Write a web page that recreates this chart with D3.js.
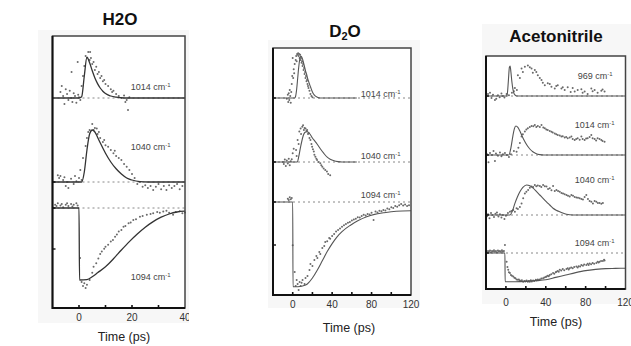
<!DOCTYPE html>
<html>
<head>
<meta charset="utf-8">
<script src="https://cdn.jsdelivr.net/npm/d3@7"></script>
<style>
  body { margin: 0; background: #fff; }
  svg { display: block; font-family: Arial, "Liberation Sans", sans-serif; }
</style>
</head>
<body>
<div id="chart"></div>
<script>
// ---- data: [time (ps), signal] ----
const h2oTicks = [0, 20, 40];
const d2oTicks = [0, 40, 80, 120];
const acnTicks = [0, 40, 80, 120];

const h2o1014Fit = [[-10,0],[0,0],[1,0.03],[2,0.55],[3,1.02],[4,0.88],[5,0.68],[6,0.5],[7,0.36],[8,0.25],[9,0.17],[10,0.11],[12,0.05],[14,0.02],[17,0],[40,0]];
const h2o1014Pts = [[-7,0.15],[-6.5,0.3],[-6,0.05],[-5.5,-0.15],[-5,0.22],[-4.5,0.1],[-4,-0.05],[-3.5,0.18],[-3,0.0],[-2.8,0.65],[-2.5,-0.1],[-2,0.12],[-1.5,0.05],[-1,-0.12],[-0.5,0.9],[-0.3,0.08],[0,0.02],[0.5,-0.05],[1,0.3],[1.5,0.55],[2,0.8],[2.5,1.05],[3,1.0],[3.5,1.15],[4,0.95],[4.2,1.15],[4.5,1.0],[5,0.85],[5.5,0.9],[6,0.7],[6.5,0.78],[7,0.6],[7.5,0.65],[8,0.5],[8.5,0.55],[9,0.42],[9.5,0.45],[10,0.35],[11,0.3],[12,0.22],[12.5,0.15],[13,0.18],[14,0.1],[15,0.05],[16,0.0],[17,0.06],[17.5,-0.1],[18,-0.05],[18.5,-0.3],[19,0.02]];
const h2o1040Fit = [[-10,0],[1,0],[2,0.25],[3,0.8],[4,1.2],[5,1.3],[6,1.25],[7,1.12],[8,0.98],[10,0.72],[12,0.5],[14,0.33],[16,0.2],[18,0.1],[20,0.05],[23,0.01],[26,0],[40,0]];
const h2o1040Pts = [[-8,0.17],[-7.5,0.1],[-7,0.15],[-6,0.05],[-5.5,0.12],[-5,-0.1],[-4.5,0.0],[-4,-0.15],[-3,0.08],[-2,-0.05],[-1.5,0.15],[-1,0.02],[0,0.1],[0.5,0.3],[1,0.05],[1.5,0.6],[2.5,0.9],[3,1.1],[3.5,1.25],[4,1.3],[5,1.45],[5.5,1.3],[6,1.35],[6.7,1.34],[7,1.2],[7.5,1.25],[8,1.1],[9,1.0],[9.5,1.05],[10,0.92],[11,0.88],[12,0.8],[13,0.72],[13.5,0.78],[14,0.65],[15,0.6],[16,0.55],[17,0.45],[18,0.38],[19,0.3],[20,0.2],[21,0.1],[22,-0.05],[23,0.0],[24,-0.12],[25,-0.08],[26,-0.15],[27,-0.1],[28,-0.2],[29,-0.12],[30,-0.05],[31,-0.18],[32,-0.1],[33,-0.2],[34,-0.08],[35,-0.15],[36,-0.1],[37,-0.05],[38,-0.18],[39,-0.1]];
const h2o1094Fit = [[-10,0],[0,0],[0.2,-1.8],[3,-1.79],[5,-1.72],[7,-1.62],[10,-1.47],[13,-1.27],[16,-1.05],[19,-0.84],[22,-0.65],[25,-0.48],[28,-0.34],[31,-0.23],[34,-0.15],[37,-0.1],[40,-0.08]];
const h2o1094Pts = [[-9,0.08],[-8.5,0.05],[-8,0.12],[-7,0.06],[-6.5,0.1],[-6,0.02],[-5,0.08],[-4.5,0.12],[-4,0.05],[-3,0.1],[-2.5,0.04],[-2,0.08],[-1,0.12],[-0.5,0.06],[0.4,-1.25],[1,-1.85],[1.5,-1.95],[2,-1.88],[2.5,-2.0],[3,-1.92],[4,-1.8],[5,-1.62],[5.5,-1.47],[6.5,-1.38],[7.3,-1.26],[8,-1.15],[8.6,-1.09],[9.5,-1.02],[10,-0.97],[11,-0.92],[12,-0.84],[12.8,-0.8],[13.6,-0.72],[14.3,-0.66],[15,-0.59],[16,-0.55],[16.8,-0.47],[17.5,-0.45],[18.7,-0.38],[19.5,-0.36],[20.5,-0.3],[21.5,-0.28],[23,-0.22],[24,-0.2],[25.6,-0.17],[27,-0.15],[28,-0.13],[29.5,-0.1],[30.5,-0.12],[31.8,-0.09],[33,-0.07],[34,-0.12],[35.5,-0.17],[36.5,-0.1],[38,-0.08],[39,-0.13],[40,-0.11]];

const d2o1014Fit = [[-20,0],[2,0],[3,0.05],[4,0.22],[5,0.48],[6,0.75],[7,0.95],[8,1.05],[9,1.03],[10,0.97],[11,0.88],[12,0.78],[13,0.68],[14,0.6],[15,0.5],[16,0.42],[18,0.28],[20,0.15],[22,0.07],[25,0.02],[28,0],[65,0]];
const d2o1014Pts = [[-6,-0.02],[-5,0.08],[-4.5,-0.1],[-4,0.12],[-3.5,-0.05],[-3,0.2],[-2.5,0.05],[-2,-0.12],[-1.5,0.15],[-1,0.35],[-0.5,0.55],[0,1.0],[0.5,0.5],[1,0.72],[1.5,0.62],[2,0.85],[3,0.95],[3.5,1.05],[4,0.92],[4.5,1.1],[5,1.08],[5.5,1.12],[6,1.05],[6.5,1.1],[7,1.0],[7.5,1.08],[8,0.95],[8.5,1.0],[9,0.88],[9.5,0.92],[10,0.8],[10.5,0.85],[11,0.7],[11.5,0.75],[12,0.6],[12.5,0.65],[13,0.5],[13.5,0.55],[14,0.42],[14.5,0.45],[15,0.35],[15.5,0.3],[16,0.25],[17,0.18],[18,0.1],[19,0.05],[20,0.02]];
const d2o1040Fit = [[-20,0],[4.7,0],[6,0.12],[8,0.38],[10,0.6],[11.3,0.7],[13,0.75],[14.6,0.76],[16,0.74],[18,0.68],[20,0.6],[22.5,0.52],[24.7,0.45],[28,0.33],[31.4,0.22],[35,0.12],[38,0.07],[42,0.03],[46,0.01],[50,0],[65,0]];
const d2o1040Pts = [[-10,0.0],[-9,-0.05],[-8,0.06],[-7,-0.1],[-6,0.04],[-5,-0.04],[-4,0.08],[-3,-0.08],[-2,0.02],[-1,0.07],[0,0.22],[1,0.33],[3.4,0.3],[4,0.15],[5,0.55],[6,0.45],[6.7,0.76],[8,0.84],[8.5,0.7],[9.7,0.88],[10.5,0.92],[11.3,0.8],[12,0.85],[13,0.84],[14,0.78],[14.6,0.8],[15.5,0.7],[16.3,0.72],[17,0.6],[18,0.55],[19,0.45],[19.7,0.38],[20.5,0.32],[21.4,0.26],[22,0.18],[23,0.13],[24,0.08],[24.7,0.05],[26,0.0],[28,-0.03],[29,-0.08],[30,-0.12],[31.4,-0.16],[33,-0.2],[34.7,-0.24],[36,-0.3],[38,-0.33]];
const d2o1094Fit = [[-20,0],[0,0],[0.3,-2.12],[5,-2.12],[10,-2.1],[14.8,-2.05],[20,-1.9],[25,-1.7],[30,-1.47],[35,-1.24],[40,-1.04],[45,-0.87],[50,-0.74],[58.6,-0.58],[66,-0.47],[75,-0.37],[83,-0.31],[92,-0.27],[105,-0.23],[120,-0.22]];
const d2o1094Pts = [[-5,0.08],[-4,0.05],[-3,0.12],[-2,0.07],[-1,0.1],[0,-1.08],[2,-1.75],[3,-2.1],[4,-1.95],[5,-2.05],[6,-2.2],[7,-2.0],[8,-2.1],[9,-2.02],[10,-1.95],[12,-2.05],[13,-1.9],[15,-1.85],[17,-1.7],[18,-1.55],[20,-1.6],[22,-1.45],[24,-1.35],[25,-1.4],[27,-1.25],[28,-1.3],[30,-1.15],[32,-1.1],[33,-1.0],[35,-0.98],[37,-0.9],[38,-0.92],[40,-0.85],[42,-0.8],[44,-0.74],[46,-0.7],[48,-0.66],[50,-0.62],[52,-0.58],[54,-0.55],[56,-0.52],[58,-0.5],[60,-0.46],[62,-0.44],[64,-0.42],[66,-0.38],[68,-0.39],[70,-0.35],[72,-0.32],[74,-0.34],[76,-0.3],[78,-0.31],[80,-0.27],[82,-0.45],[84,-0.24],[86,-0.26],[88,-0.22],[90,-0.23],[92,-0.2],[94,-0.21],[96,-0.16],[98,-0.18],[100,-0.13],[102,-0.15],[104,-0.1],[106,-0.12],[108,-0.08],[110,-0.05],[112,-0.09],[114,-0.06],[116,-0.1],[118,-0.08]];

const acn969Fit = [[-20,0],[0.5,0],[1.5,0.08],[2.5,0.4],[3.5,0.72],[4.2,0.75],[5,0.6],[6,0.35],[7,0.17],[8,0.07],[9,0.03],[11,0],[120,0]];
const acn969Pts = [[-18,0.05],[-16,0.08],[-14.5,-0.05],[-13,0.03],[-11,-0.1],[-9.7,-0.07],[-8,0.02],[-6.3,-0.03],[-4.5,0.06],[-3,0.0],[-1.5,-0.04],[0.7,0.05],[3,0.02],[6,0.08],[8,0.12],[9,0.2],[11,0.15],[12,0.52],[14,0.45],[15.7,0.69],[17,0.6],[19,0.73],[22,0.76],[24,0.72],[25.7,0.69],[27,0.58],[29,0.65],[30.5,0.6],[32,0.52],[34,0.45],[35.7,0.4],[37,0.33],[39,0.27],[42,0.32],[44,0.3],[45.7,0.23],[49,0.19],[50.5,0.25],[52,0.27],[55.7,0.19],[57,0.22],[59,0.15],[62,0.22],[65,0.1],[67,0.2],[69,0.11],[72,0.15],[75.7,0.17],[77,0.08],[79,0.11],[82,0.05],[85.7,0.19],[87,0.12],[89,0.15],[92,0.08],[95.7,0.13],[97,0.16],[99,0.11]];
const acn1014Fit = [[-20,0],[3,0],[5,0.18],[7,0.48],[8.5,0.66],[10,0.725],[12,0.69],[14,0.6],[16,0.49],[18,0.38],[21,0.25],[24,0.15],[27,0.08],[30,0.04],[34,0.01],[38,0],[120,0]];
const acn1014Pts = [[-19,0.02],[-17.5,-0.18],[-16,0.05],[-14,0.0],[-12.5,0.1],[-11,-0.15],[-10,0.04],[-8,-0.02],[-6,0.06],[-4.5,-0.03],[-3,0.02],[-1,0.05],[1,0.0],[3,-0.05],[5,0.02],[8,0.1],[10.7,0.08],[12.5,0.18],[14,0.3],[15.7,0.46],[17,0.52],[19,0.59],[20.5,0.64],[22,0.67],[24,0.7],[25.7,0.725],[27.5,0.72],[29,0.75],[30.5,0.7],[32,0.725],[34,0.7],[35.7,0.75],[37.5,0.69],[39,0.67],[40.5,0.64],[42,0.625],[44,0.6],[45.7,0.58],[47,0.56],[49,0.54],[50.5,0.52],[52,0.5],[54,0.49],[55.7,0.46],[57,0.47],[59,0.44],[60.5,0.45],[62,0.42],[64,0.44],[65.7,0.46],[67,0.4],[69,0.375],[70.5,0.4],[72,0.42],[74,0.38],[75.7,0.46],[77,0.4],[79,0.375],[80.5,0.41],[82,0.42],[84,0.45],[85.7,0.5],[87,0.42],[89,0.4],[90.5,0.36],[92,0.42],[94,0.4],[95.7,0.375],[97,0.35],[99,0.33]];
const acn1040Fit = [[-20,0],[4,0],[6.5,0.1],[9,0.29],[11.5,0.45],[14,0.58],[17,0.69],[20.7,0.75],[24,0.73],[27.3,0.67],[30.5,0.59],[34,0.5],[37.5,0.41],[40.7,0.33],[44,0.25],[47.3,0.17],[50.5,0.12],[54,0.08],[57,0.05],[60.7,0.02],[67,0],[120,0]];
const acn1040Pts = [[-19,-0.03],[-18,0.02],[-16.5,-0.08],[-15,0.05],[-13.5,0.0],[-12,-0.05],[-10.5,0.03],[-9,0.06],[-7.5,-0.04],[-6,0.02],[-4.5,-0.06],[-3,0.0],[-1.5,-0.1],[0,-0.02],[2,0.05],[4,0.08],[5.5,0.1],[7.3,0.125],[9,0.08],[10.7,0.17],[12,0.15],[14,0.2],[15.7,0.29],[17.3,0.42],[19,0.54],[20.5,0.58],[22.3,0.625],[24,0.68],[25.7,0.71],[27.3,0.7],[29,0.75],[30.5,0.72],[32,0.74],[34,0.725],[35.5,0.7],[37.3,0.75],[39,0.72],[40.7,0.71],[42.3,0.65],[44,0.67],[45.7,0.62],[47.3,0.725],[49,0.6],[50.7,0.625],[52.3,0.6],[54,0.58],[55.7,0.55],[57.3,0.54],[59,0.52],[60.7,0.5],[62.3,0.48],[64,0.46],[65.7,0.5],[67.3,0.48],[69,0.45],[70.7,0.44],[72.3,0.43],[74,0.42],[75.7,0.4],[77.3,0.39],[79,0.45],[80.7,0.5],[82.3,0.4],[84,0.35],[85.7,0.33],[87.3,0.29],[89,0.35],[90.7,0.33],[92.3,0.3],[94,0.3],[95.7,0.28],[97.3,0.3]];
const acn1094Fit = [[-20,0],[-1,0],[-0.8,-0.72],[5,-0.72],[10,-0.72],[20,-0.71],[30,-0.69],[40,-0.67],[50,-0.61],[60,-0.55],[70,-0.49],[80,-0.44],[90,-0.41],[100,-0.39],[110,-0.385],[120,-0.38]];
const acn1094Pts = [[-19,0.02],[-18,0.05],[-17,0.03],[-16,0.06],[-15,0.02],[-14,0.05],[-13,0.04],[-12,0.07],[-11,0.03],[-10,0.05],[-9,0.02],[-8,0.06],[-7,0.04],[-6,0.05],[-5,0.03],[-4,0.07],[-3,0.04],[-2,0.05],[-1,0.2],[0.7,-0.22],[1.5,-0.35],[2.3,-0.42],[3,-0.48],[4,-0.5],[5,-0.55],[6,-0.57],[7.3,-0.59],[8.5,-0.62],[9.5,-0.63],[10.7,-0.66],[12,-0.67],[13,-0.66],[14,-0.69],[15,-0.7],[16,-0.68],[17.3,-0.72],[18.5,-0.7],[19.5,-0.71],[20.7,-0.69],[22,-0.72],[23,-0.7],[24,-0.72],[25,-0.68],[26,-0.71],[27.3,-0.69],[28.5,-0.7],[30,-0.67],[31,-0.69],[32,-0.66],[33,-0.68],[34,-0.66],[35.5,-0.64],[37.3,-0.63],[38.5,-0.61],[40,-0.6],[40.7,-0.59],[42,-0.57],[43,-0.58],[44,-0.55],[45.5,-0.53],[47.3,-0.5],[48.5,-0.52],[50,-0.48],[50.7,-0.47],[52,-0.45],[53,-0.47],[54,-0.42],[55.5,-0.44],[57,-0.4],[58.5,-0.43],[60.7,-0.4],[62,-0.38],[63,-0.41],[64,-0.38],[65.5,-0.36],[67,-0.38],[68.5,-0.35],[70.7,-0.34],[72,-0.36],[73,-0.33],[74.5,-0.34],[75.7,-0.3],[77.3,-0.32],[78.5,-0.29],[80.7,-0.3],[82,-0.27],[83,-0.3],[84,-0.26],[85.5,-0.28],[87,-0.25],[88.5,-0.27],[90.7,-0.25],[92,-0.22],[93,-0.24],[94,-0.22],[95.5,-0.2],[97.3,-0.2],[98.5,-0.17],[99,-0.19]];

// ---- layout (pixels) ----
const W = 631, H = 346;
const panels = [
  { title: 'H2O', tx: 120, ty: 19, bg: [38, 30, 152, 293], clipW: 189,
    frame: { x0: 52.5, x1: 185, y0: 36, y1: 308 }, xDom: [-10, 40], yMax: 6.8,
    minorStep: 10, ticks: h2oTicks, tickY: 317, axisY: 337, axisX: 124,
    fitColor: '#333', fitW: 1.3, leftTicks: [3.15, 2.5, 1.475],
    traces: [
      { name: '1014', off: 5.25, fit: h2o1014Fit, pts: h2o1014Pts, lt: 19.5, lv: 0.28 },
      { name: '1040', off: 3.15, fit: h2o1040Fit, pts: h2o1040Pts, lt: 19.5, lv: 0.875 },
      { name: '1094', off: 2.5, fit: h2o1094Fit, pts: h2o1094Pts, lt: 19.5, lv: -1.72 }
    ] },
  { title: 'D2O', tx: 345, ty: 31, bg: [268, 40, 152, 268], clipW: null,
    frame: { x0: 273, x1: 411, y0: 48, y1: 295 }, xDom: [-20, 120], yMax: 6.175,
    minorStep: 20, ticks: d2oTicks, tickY: 304, axisY: 328, axisX: 349,
    fitColor: '#555', fitW: 1.1, leftTicks: [4.925, 3.325, 2.325, 1.25],
    traces: [
      { name: '1014', off: 4.925, fit: d2o1014Fit, pts: d2o1014Pts, lt: 69, lv: 0.1 },
      { name: '1040', off: 3.325, fit: d2o1040Fit, pts: d2o1040Pts, lt: 69, lv: 0.15 },
      { name: '1094', off: 2.325, fit: d2o1094Fit, pts: d2o1094Pts, lt: 69, lv: 0.175 }
    ] },
  { title: 'Acetonitrile', tx: 556, ty: 36, bg: [482, 24, 149, 280], clipW: null,
    frame: { x0: 486, x1: 625.5, y0: 56, y1: 289 }, xDom: [-20, 120], yMax: 5.825,
    minorStep: 20, ticks: acnTicks, tickY: 302, axisY: 322, axisX: 556,
    fitColor: '#555', fitW: 1.1, leftTicks: [4.825, 3.35, 1.85, 0.9],
    traces: [
      { name: '969', off: 4.825, fit: acn969Fit, pts: acn969Pts, lt: 72, lv: 0.5 },
      { name: '1014', off: 3.35, fit: acn1014Fit, pts: acn1014Pts, lt: 69, lv: 0.75 },
      { name: '1040', off: 1.85, fit: acn1040Fit, pts: acn1040Pts, lt: 69, lv: 0.875 },
      { name: '1094', off: 0.9, fit: acn1094Fit, pts: acn1094Pts, lt: 69, lv: 0.25 }
    ] }
];

const svg = d3.select('#chart').append('svg')
  .attr('width', W).attr('height', H)
  .attr('viewBox', [0, 0, W, H]);

panels.forEach((p, i) => {
  const f = p.frame;
  let g = svg.append('g');
  if (p.clipW) {
    svg.append('clipPath').attr('id', 'clip' + i)
      .append('rect').attr('x', 0).attr('y', 0).attr('width', p.clipW).attr('height', H);
    g.attr('clip-path', `url(#clip${i})`);
  }

  // faint scanned backdrop
  g.append('rect')
    .attr('x', p.bg[0]).attr('y', p.bg[1]).attr('width', p.bg[2]).attr('height', p.bg[3])
    .attr('fill', '#f7f7f7');

  const x = d3.scaleLinear().domain(p.xDom).range([f.x0, f.x1]);
  const y = d3.scaleLinear().domain([0, p.yMax]).range([f.y1, f.y0]);

  g.append('rect')
    .attr('x', f.x0).attr('y', f.y0)
    .attr('width', f.x1 - f.x0).attr('height', f.y1 - f.y0)
    .attr('fill', '#fff');

  const plot = g.append('g');

  p.traces.forEach(t => {
    // dashed zero line
    plot.append('line')
      .attr('x1', f.x0).attr('x2', f.x1)
      .attr('y1', y(t.off)).attr('y2', y(t.off))
      .attr('stroke', '#888').attr('stroke-width', 1)
      .attr('stroke-dasharray', '2,3');

    // data points
    plot.append('g').selectAll('circle')
      .data(t.pts)
      .join('circle')
      .attr('cx', d => x(d[0]))
      .attr('cy', d => y(t.off + d[1]))
      .attr('r', 1)
      .attr('fill', '#6a6a6a');

    // fit
    const line = d3.line()
      .x(d => x(d[0]))
      .y(d => y(t.off + d[1]))
      .curve(d3.curveMonotoneX);
    plot.append('path')
      .attr('d', line(t.fit))
      .attr('fill', 'none')
      .attr('stroke', p.fitColor)
      .attr('stroke-width', p.fitW);

    // wavenumber label
    const lab = plot.append('text')
      .attr('x', x(t.lt)).attr('y', y(t.off + t.lv))
      .attr('dy', '0.35em')
      .attr('font-size', 9)
      .attr('fill', '#444');
    lab.append('tspan').text(t.name + ' cm');
    lab.append('tspan').attr('dy', '-0.45em').attr('font-size', 6).text('-1');
  });

  // frame
  g.append('rect')
    .attr('x', f.x0).attr('y', f.y0)
    .attr('width', f.x1 - f.x0).attr('height', f.y1 - f.y0)
    .attr('fill', 'none').attr('stroke', '#444').attr('stroke-width', 1.5);
  g.append('path')
    .attr('d', `M${f.x0},${f.y0}V${f.y1}H${f.x1}`)
    .attr('fill', 'none').attr('stroke', '#111').attr('stroke-width', 2);

  // bottom axis: inward ticks + labels
  const minor = d3.range(0, p.xDom[1], p.minorStep);
  g.append('g').selectAll('line')
    .data(minor)
    .join('line')
    .attr('x1', d => x(d)).attr('x2', d => x(d))
    .attr('y1', f.y1).attr('y2', f.y1 - 3)
    .attr('stroke', '#111').attr('stroke-width', 1.6);
  g.append('g').selectAll('text')
    .data(p.ticks)
    .join('text')
    .attr('x', d => x(d)).attr('y', p.tickY)
    .attr('dy', '0.35em')
    .attr('text-anchor', 'middle')
    .attr('font-size', 10)
    .attr('fill', '#333')
    .text(d => d);

  // left axis ticks
  g.append('g').selectAll('line')
    .data(p.leftTicks)
    .join('line')
    .attr('x1', f.x0).attr('x2', f.x0 + 3)
    .attr('y1', d => y(d)).attr('y2', d => y(d))
    .attr('stroke', '#111').attr('stroke-width', 1.4);

  // axis title
  svg.append('text')
    .attr('x', p.axisX).attr('y', p.axisY)
    .attr('dy', '0.35em')
    .attr('text-anchor', 'middle')
    .attr('font-size', 12.5)
    .attr('fill', '#222')
    .text('Time (ps)');

  // panel title
  const tt = svg.append('text')
    .attr('x', p.tx).attr('y', p.ty)
    .attr('dy', '0.35em')
    .attr('text-anchor', 'middle')
    .attr('font-size', 17)
    .attr('font-weight', 'bold')
    .attr('fill', '#111');
  if (p.title === 'D2O') {
    tt.append('tspan').text('D');
    tt.append('tspan').attr('font-size', 11).attr('dy', '0.3em').text('2');
    tt.append('tspan').attr('dy', '-0.2em').text('O');
  } else {
    tt.text(p.title);
  }
});
</script>
</body>
</html>
